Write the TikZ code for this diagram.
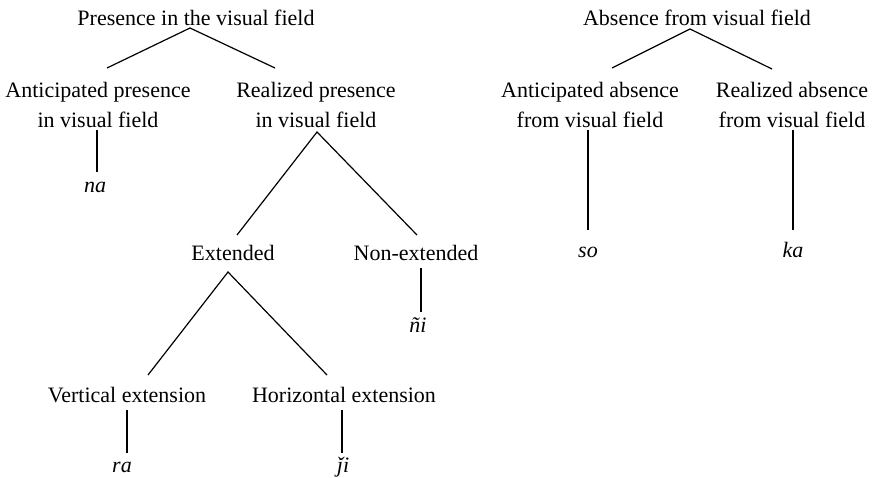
\documentclass[tikz,border=0pt]{standalone}
\usepackage{fontspec}
\setmainfont{Liberation Serif}
\usetikzlibrary{calc}
\begin{document}
\begin{tikzpicture}[x=1pt,y=-1pt,
  lbl/.style={anchor=base,inner sep=0pt,font=\fontsize{22}{30}\selectfont},
  word/.style={lbl,font=\fontsize{22}{30}\selectfont\itshape},
  edge/.style={line width=1.2pt}]
\useasboundingbox (0,0) rectangle (874,477);

% left tree: presence (two-line labels sit on their last baseline)
\node[lbl] (pres) at (196,25) {Presence in the visual field};
\node[lbl,align=center] (antp) at (98,127) {Anticipated presence\\in visual field};
\node[lbl,align=center] (realp) at (316,127) {Realized presence\\in visual field};
\node[word] (na) at (95,192) {na};
\node[lbl] (ext) at (233,260) {Extended};
\node[lbl] (next) at (416,260) {Non-extended};
\node[word] (ni) at (418,332) {ñi};
\node[lbl] (vert) at (127,402) {Vertical extension};
\node[lbl] (horz) at (344,402) {Horizontal extension};
\node[word] (ra) at (122,472) {ra};
\node[word] (ji) at (343,472) {ǰi};

% right tree: absence
\node[lbl] (abs) at (697,25) {Absence from visual field};
\node[lbl,align=center] (anta) at (590,127) {Anticipated absence\\from visual field};
\node[lbl,align=center] (reala) at (792,127) {Realized absence\\from visual field};
\node[word] (so) at (588,257) {so};
\node[word] (ka) at (793,257) {ka};

% branches
\draw[edge] ($(antp.base)+(9,-59)$) -- ($(pres.base)+(-6,3)$) -- ($(realp.base)+(-41,-59)$);
\draw[edge] ($(antp.base)+(-1,3)$) -- ($(na.base)+(2,-20)$);
\draw[edge] ($(ext.base)+(4,-25)$) -- ($(realp.base)+(1,5)$) -- ($(next.base)+(1,-25)$);
\draw[edge] ($(next.base)+(5,8)$) -- ($(ni.base)+(3,-20)$);
\draw[edge] ($(vert.base)+(21,-27)$) -- ($(ext.base)+(-5,12)$) -- ($(horz.base)+(-17,-27)$);
\draw[edge] ($(vert.base)+(0,8)$) -- ($(ra.base)+(5,-19)$);
\draw[edge] ($(horz.base)+(-2,8)$) -- ($(ji.base)+(-1,-19)$);
\draw[edge] ($(anta.base)+(22,-59)$) -- ($(abs.base)+(-7,4)$) -- ($(reala.base)+(-20,-58)$);
\draw[edge] ($(anta.base)+(-2,3)$) -- ($(so.base)+(0,-27)$);
\draw[edge] ($(reala.base)+(1,3)$) -- ($(ka.base)+(0,-27)$);
\end{tikzpicture}
\end{document}
